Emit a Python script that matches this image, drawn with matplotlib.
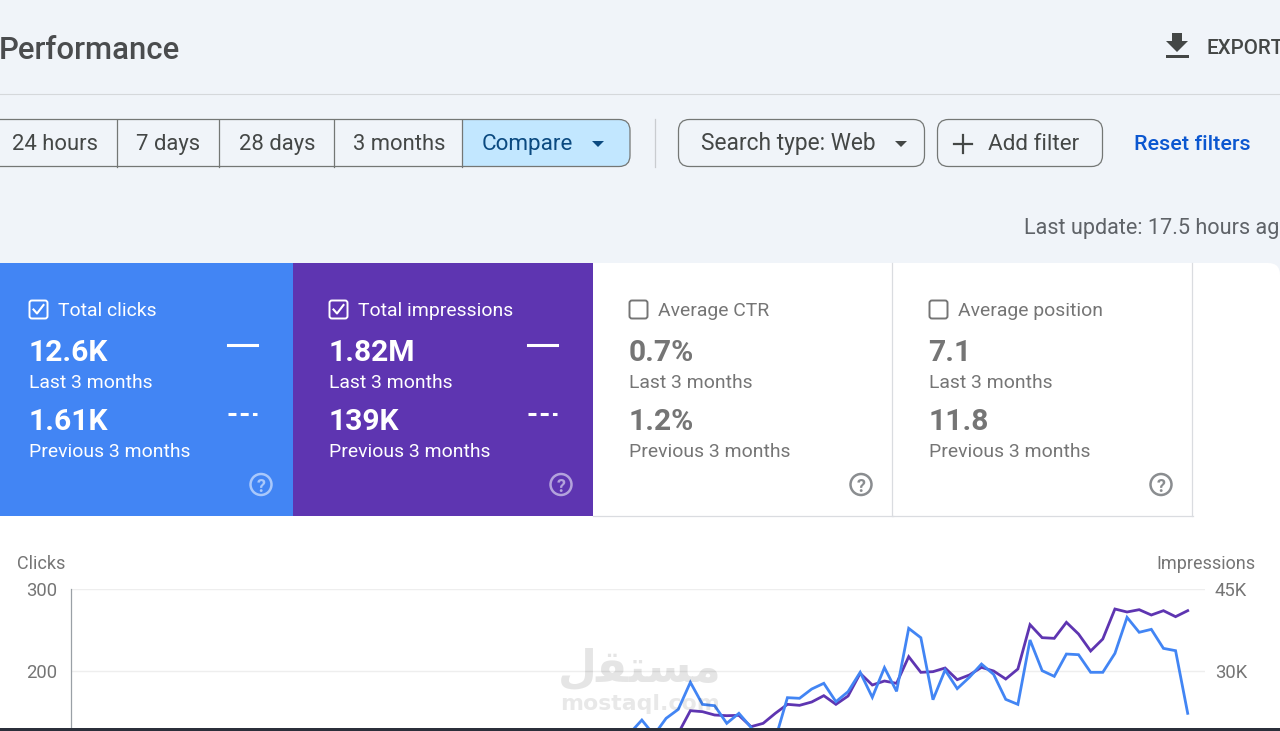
#!/usr/bin/env python3
"""Search console performance screenshot, redrawn with matplotlib."""
import matplotlib
matplotlib.use("Agg")
import matplotlib.pyplot as plt
from matplotlib.patches import FancyBboxPatch, Rectangle, Circle, Polygon

plt.rcParams["font.family"] = ["Roboto", "DejaVu Sans"]

# ------------- data -------------
clicks_days = list(range(43, 90))
clicks = [124, 140.2, 121.9, 142.3, 153.2, 186.2, 159.3, 157.7, 136.2, 148.4, 131.3,
          111.8, 116.7, 167.5, 166.7, 178.0, 185.0, 162.6, 174.8, 198.4, 167.9, 204.1,
          175.2, 252.0, 240.6, 165.0, 201.2, 178.5, 192.3, 208.5, 195.9, 165.4, 159.3,
          237.8, 200.4, 193.5, 220.7, 219.9, 198.4, 198.4, 221.5, 265.4, 247.2, 250.8,
          227.6, 224.8, 148.4]
impr_days = list(range(46, 90))
impressions = [16156, 18595, 22742, 22559, 21949, 21827, 21888, 19815, 20425, 22254,
               23900, 23717, 24327, 25486, 23900, 25425, 29571, 27437, 28169, 27742,
               32621, 29755, 29877, 30547, 28413, 29266, 30669, 29998, 28535, 30364,
               38475, 36096, 35975, 38902, 36767, 33657, 35852, 41341, 40792, 41219,
               40243, 41036, 39938, 41036]
clicks_ticks = [200, 300]
impr_ticks = [30000, 45000]
impr_tick_labels = ["30K", "45K"]

range_labels = ["24 hours", "7 days", "28 days", "3 months"]
range_label_x = [55, 168, 277, 399]
range_dividers = [117, 219, 333.5, 462]

cards = [
    ("Total clicks", "12.6K", "1.61K"),
    ("Total impressions", "1.82M", "139K"),
    ("Average CTR", "0.7%", "1.2%"),
    ("Average position", "7.1", "11.8"),
]
card_x = [0, 293, 593, 893]
card_w = [293, 300, 300, 300]
card_bg = ["#4285f4", "#5e35b1", "#ffffff", "#ffffff"]
card_box_x = [29, 329, 629, 929]

BG = "#f0f4f9"
DARK = "#444746"
BLUE_LINE = "#4285f4"
PURPLE_LINE = "#5e35b1"
GREY_TXT = "#757575"


def px(size):
    # font size in pixels to points at dpi 100
    return size * 0.72


fig = plt.figure(figsize=(12.8, 7.31), dpi=100, facecolor=BG)
ui = fig.add_axes([0, 0, 1, 1])
ui.set_xlim(0, 1280)
ui.set_ylim(731, 0)
ui.axis("off")


def text(x, y, s, size, color=DARK, weight="normal", ha="left", **kw):
    return ui.text(x, y, s, fontsize=px(size), color=color, fontweight=weight,
                   ha=ha, va="baseline", **kw)


def rounded(x, y, w, h, r, fc, ec, lw=1.0, zorder=2):
    p = FancyBboxPatch((x + r, y + r), w - 2 * r, h - 2 * r, boxstyle=f"round,pad={r},rounding_size={r}",
                       fc=fc, ec=ec, lw=lw, zorder=zorder, mutation_aspect=1)
    ui.add_patch(p)
    return p


# ----- header -----
text(-1, 59, "Performance", 31.2, color="#4a4c4e", weight="medium")
ui.plot([0, 1280], [94, 94], color="#d5d8db", lw=0.8)
ui.add_patch(Polygon([(1172, 33), (1182, 33), (1182, 41), (1188, 41), (1177, 52), (1166, 41), (1172, 41)],
                     fc=DARK, ec="none"))
ui.add_patch(Rectangle((1166, 55), 23, 3, fc=DARK, ec="none"))
text(1207, 54, "EXPORT", 20.5, color=DARK, weight="medium")

# ----- filter chips -----
outer = rounded(-30, 119.5, 660, 47, 11, BG, "none", zorder=2)
blue = Rectangle((462, 119.5), 170, 47, fc="#c2e7ff", ec="none", zorder=3)
ui.add_patch(blue)
blue.set_clip_path(outer)
rounded(-30, 119.5, 660, 47, 11, "none", "#747775", lw=0.9, zorder=4)
for d in range_dividers:
    ui.plot([d, d], [119.5, 166.5], color="#747775", lw=0.9, zorder=4)
for lab, x in zip(range_labels, range_label_x):
    text(x, 150, lab, 22, ha="center", zorder=5)
text(527, 150, "Compare", 22.5, color="#0b4a80", ha="center", zorder=5)
ui.add_patch(Polygon([(592, 141), (604, 141), (598, 147)], fc="#0b4a80", ec="none", zorder=5))

ui.plot([654.5, 654.5], [119, 167], color="#c9ccd0", lw=0.9)
rounded(678.5, 119.5, 246, 47, 11, BG, "#747775", lw=0.9)
text(788, 150, "Search type: Web", 22.8, ha="center", zorder=5)
ui.add_patch(Polygon([(895, 141), (907, 141), (901, 147)], fc=DARK, ec="none", zorder=5))
rounded(937.5, 119.5, 165, 47, 11, BG, "#747775", lw=0.9)
ui.plot([963, 963], [135, 153], color=DARK, lw=1.6, zorder=5)
ui.plot([954, 972], [144, 144], color=DARK, lw=1.6, zorder=5)
text(1033.5, 150, "Add filter", 22.5, ha="center", zorder=5)
text(1192, 150, "Reset filters", 21.5, color="#0b57d0", ha="center", weight="medium")
text(1024, 234, "Last update: 17.5 hours ago", 21.7, color="#5f6368")

# ----- white page + metric cards -----
rounded(-30, 263, 1310, 520, 12, "#ffffff", "none", zorder=1)
for (title, v1, v2), x, w, bg, bx in zip(cards, card_x, card_w, card_bg, card_box_x):
    solid = bg != "#ffffff"
    fg = "#ffffff" if solid else GREY_TXT
    ui.add_patch(Rectangle((x, 263), w, 253, fc=bg, ec="none", zorder=2))
    if not solid:
        ui.plot([x + w - 1, x + w - 1], [263, 515.5], color="#dadce0", lw=0.9, zorder=3)
        ui.plot([x, x + w], [515.5, 515.5], color="#dadce0", lw=0.9, zorder=3)
    rounded(bx + 0.5, 300.5, 18, 18, 2.5, "none", fg, lw=1.4, zorder=4)
    if solid:
        ui.plot([bx + 4.5, bx + 8, bx + 14.5], [309.5, 313.5, 305], color=fg, lw=1.5, zorder=5)
    text(bx + 29.5, 316, title, 19.4, color=fg, zorder=5)
    text(bx - 0.8, 361, v1, 30, color=fg, weight="bold", zorder=5)
    text(bx, 388, "Last 3 months", 19.4, color=fg, zorder=5)
    text(bx - 0.8, 430, v2, 30, color=fg, weight="bold", zorder=5)
    text(bx, 457, "Previous 3 months", 19.4, color=fg, zorder=5)
    if solid:
        ui.plot([bx + 199, bx + 228], [345, 345], color="#ffffff", lw=2.2, zorder=5)
        ui.plot([bx + 199, bx + 228], [414, 414], color="#ffffff", lw=2.2, ls=(0, (2.6, 1.4)), zorder=5)
    qc = "#a9c8fb" if x == 0 else ("#b3a2dc" if x == 293 else "#8a8d90")
    qx = bx + 232
    ui.add_patch(Circle((qx, 484.5), 10.5, fc="none", ec=qc, lw=1.8, zorder=5))
    text(qx, 491.5, "?", 18, color=qc, weight="bold", ha="center", zorder=5)

# ----- chart -----
chart = fig.add_axes([71 / 1280, 1 - 728 / 731, (1205 - 71) / 1280, (728 - 589) / 731], zorder=3)
chart.patch.set_alpha(0)
# one day is about 12.13 px and the last point sits at x = 1187.7
chart.set_xlim(89 - (1187.7 - 71) / 12.13, 89 + (1205 - 1187.7) / 12.13)
chart.set_ylim(130.5, 300)
chart.set_yticks(clicks_ticks)
chart.set_xticks([])
chart.tick_params(axis="y", length=0, labelsize=px(18.5), labelcolor=GREY_TXT, pad=10)
chart.grid(axis="y", color="#eeeeee", lw=1)
chart.set_axisbelow(True)
for s in ["top", "right", "bottom"]:
    chart.spines[s].set_visible(False)
chart.spines["left"].set_color("#9aa0a6")
chart.spines["left"].set_linewidth(0.9)

right = chart.twinx()
right.set_ylim(45000 - (728 - 589) * 15000 / 82, 45000)
right.set_yticks(impr_ticks, impr_tick_labels)
right.tick_params(axis="y", length=0, labelsize=px(18.5), labelcolor=GREY_TXT, pad=7)
for s in right.spines.values():
    s.set_visible(False)

right.plot(impr_days, impressions, color=PURPLE_LINE, lw=2.0, zorder=3, solid_joinstyle="miter")
line_ax = chart.twinx()
line_ax.set_ylim(chart.get_ylim())
line_ax.axis("off")
line_ax.plot(clicks_days, clicks, color=BLUE_LINE, lw=2.0, zorder=4, solid_joinstyle="miter")

text(17, 569, "Clicks", 18, color=GREY_TXT, zorder=6)
text(1255, 569, "Impressions", 18, color=GREY_TXT, ha="right", zorder=6)

# ----- watermark (arabic presentation forms, drawn left to right) -----
ui.set_zorder(2)
over = fig.add_axes([0, 0, 1, 1], zorder=5)
over.set_xlim(0, 1280)
over.set_ylim(731, 0)
over.axis("off")
over.text(640, 682, "\ufedd\ufed8\ufe98\ufeb4\ufee3", fontsize=px(45), family="DejaVu Sans",
          fontweight="bold", color="#000000", alpha=0.10, ha="center", va="baseline")
over.text(640, 710, "mostaql.com", fontsize=px(22), family="DejaVu Sans", fontweight="bold",
          color="#000000", alpha=0.09, ha="center", va="baseline")

# dark strip of the screen edge
over.add_patch(Rectangle((0, 728), 1280, 3, fc="#2b2f3a", ec="none"))

fig.savefig("out.png", dpi=100, facecolor=BG)
